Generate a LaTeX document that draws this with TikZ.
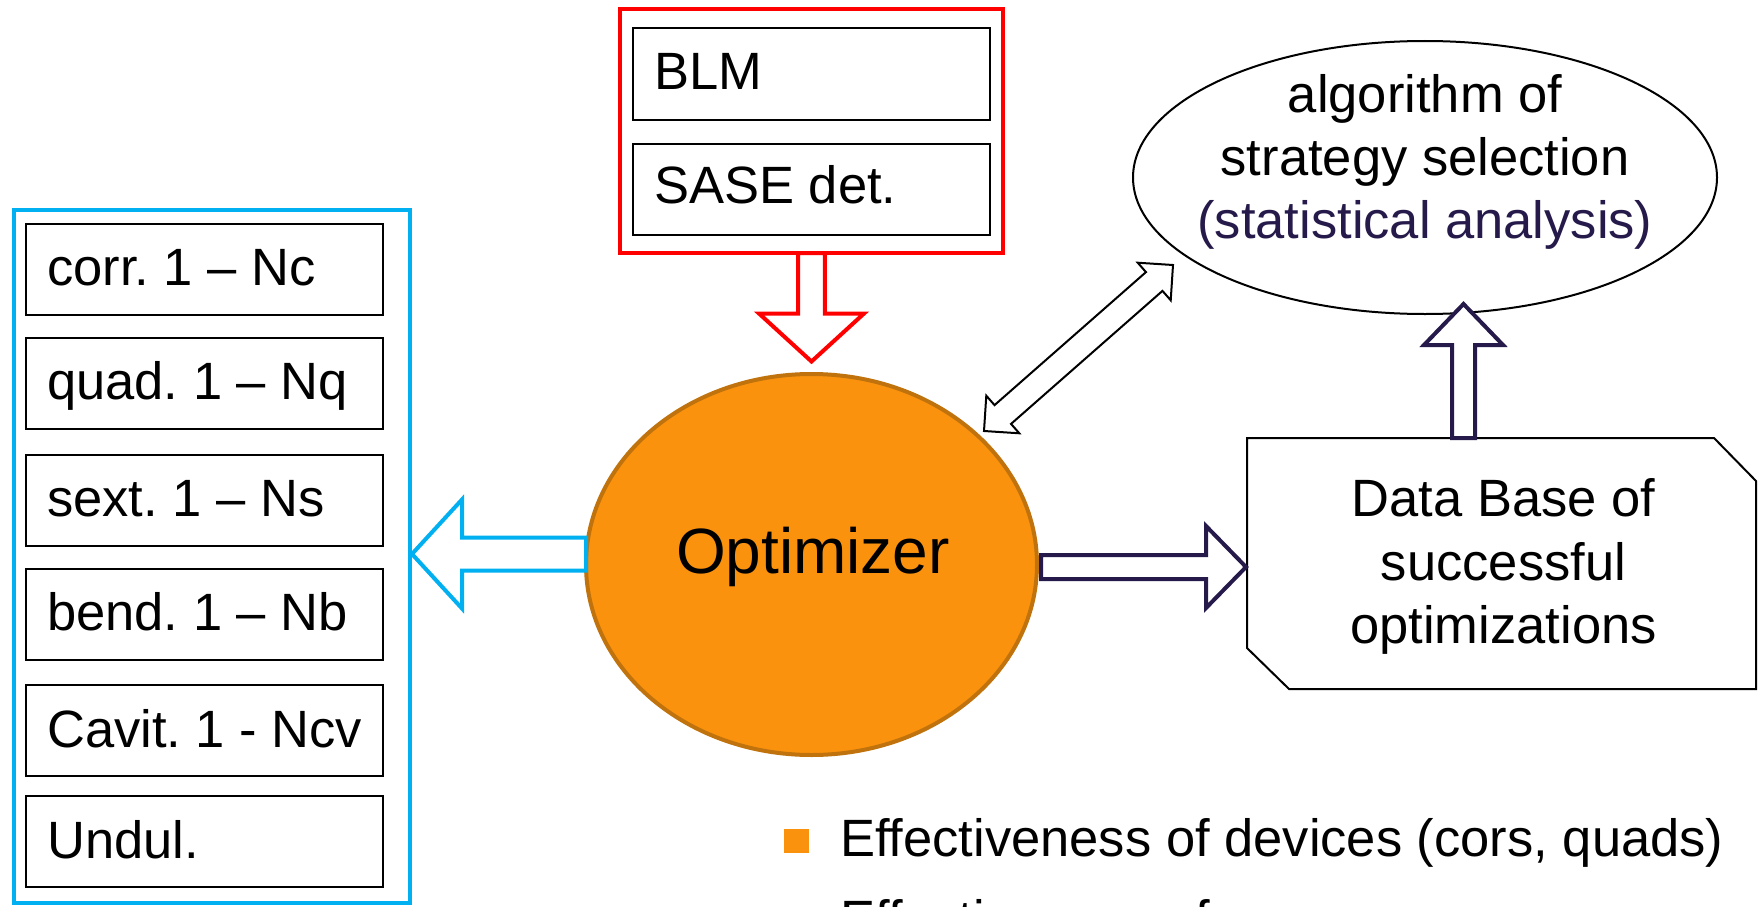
\documentclass[tikz,border=0pt]{standalone}
\usepackage{fontspec}
\setmainfont{Liberation Sans}
\usetikzlibrary{shapes.geometric,calc}
\frenchspacing
\definecolor{cyanb}{RGB}{0,176,240}
\definecolor{redb}{RGB}{255,0,0}
\definecolor{orfill}{RGB}{250,146,14}
\definecolor{ordraw}{RGB}{192,114,12}
\definecolor{purp}{RGB}{38,26,74}

% block arrow: style, from, to (tip), shaft half width, head half width, head length
\newcommand\blockarrow[6]{%
  \path (#2) coordinate (baA) (#3) coordinate (baB);
  \path ($(baB)!#6!(baA)$) coordinate (baH);
  \draw[#1] ($(baA)!#4!90:(baB)$) -- ($(baH)!#4!90:(baB)$) -- ($(baH)!#5!90:(baB)$) -- (baB)
    -- ($(baH)!#5!-90:(baB)$) -- ($(baH)!#4!-90:(baB)$) -- ($(baA)!#4!-90:(baB)$) -- cycle;}
% double block arrow
\newcommand\dblarrow[6]{%
  \path (#2) coordinate (daA) (#3) coordinate (daB);
  \path ($(daA)!#6!(daB)$) coordinate (daHA) ($(daB)!#6!(daA)$) coordinate (daHB);
  \draw[#1] (daA) -- ($(daHA)!#5!90:(daB)$) -- ($(daHA)!#4!90:(daB)$) -- ($(daHB)!#4!90:(daB)$)
    -- ($(daHB)!#5!90:(daB)$) -- (daB) -- ($(daHB)!#5!-90:(daB)$) -- ($(daHB)!#4!-90:(daB)$)
    -- ($(daHA)!#4!-90:(daB)$) -- ($(daHA)!#5!-90:(daB)$) -- cycle;}

\tikzset{
  lbl/.style={font=\fontsize{52.5}{63}\selectfont, inner sep=0pt, anchor=base west},
  ctext/.style={font=\fontsize{52.5}{63}\selectfont, inner sep=0pt, anchor=base},
  dev/.style={draw=black, line width=2pt, minimum width=357pt, minimum height=91pt, inner sep=0pt},
  bframe/.style={draw=cyanb, line width=4pt, minimum width=396pt, minimum height=693pt, inner sep=0pt},
  rframe/.style={draw=redb, line width=4pt, minimum width=383pt, minimum height=244pt, inner sep=0pt},
  bigarrow/.style={line width=4pt, fill=white, line join=miter},
}

\begin{document}
\begin{tikzpicture}[x=1pt, y=-1pt]
\useasboundingbox[fill=white] (0,0) rectangle (1761,907);

% left blue frame with devices
\node[bframe] (bf) at (212,556.5) {};
\node[dev] (c1) at (204.5,269) {};
\node[dev] (c2) at (204.5,383) {};
\node[dev] (c3) at (204.5,500) {};
\node[dev] (c4) at (204.5,614) {};
\node[dev] (c5) at (204.5,730.5) {};
\node[dev] (c6) at (204.5,841.5) {};
\node[lbl] at ($(c1.west)+(22,16.5)$) {corr. 1 – Nc};
\node[lbl] at ($(c2.west)+(22,16.5)$) {quad. 1 – Nq};
\node[lbl] at ($(c3.west)+(22,16.5)$) {sext. 1 – Ns};
\node[lbl] at ($(c4.west)+(22,16.5)$) {bend. 1 – Nb};
\node[lbl] at ($(c5.west)+(22,16.5)$) {Cavit. 1 - Ncv};
\node[lbl] at ($(c6.west)+(22,16.5)$) {Undul.};

% top red frame with diagnostics
\node[rframe] (rf) at (811.5,131) {};
\node[dev] (blm) at (811.5,74) {};
\node[dev] (sase) at (811.5,189) {};
\node[lbl] at ($(blm.west)+(22,15.5)$) {BLM};
\node[lbl] at ($(sase.west)+(22,14.5)$) {SASE det.};

% optimizer
\node[ellipse, draw=ordraw, fill=orfill, line width=4pt, minimum width=451pt, minimum height=381pt, inner sep=0pt] (opt) at (811.5,564.5) {};
\node[font=\fontsize{64}{77}\selectfont, anchor=base, inner sep=0pt] (optlbl) at ($(opt.center)+(1.5,8.5)$) {Optimizer};

% algorithm ellipse
\node[ellipse, draw=black, line width=2pt, minimum width=584pt, minimum height=273pt, inner sep=0pt] (alg) at (1425,177.5) {};
\node[ctext] (al1) at ($(alg.center)+(0,-65.5)$) {algorithm of};
\node[ctext] (al2) at ($(alg.center)+(0,-2.5)$) {strategy selection};
\node[ctext, text=purp] (al3) at ($(alg.center)+(0,60.5)$) {(statistical analysis)};

% data base
\node[minimum width=509pt, minimum height=251pt, inner sep=0pt, outer sep=0pt] (db) at (1501.5,563.5) {};
\draw[line width=2pt, line join=miter] (db.north west) -- ($(db.north east)+(-42,0)$) -- ($(db.north east)+(0,43)$)
  -- (db.south east) -- ($(db.south west)+(42,0)$) -- ($(db.south west)+(0,-41)$) -- cycle;
\node[ctext] (db1) at ($(db.center)+(2,-47.5)$) {Data Base of};
\node[ctext] (db2) at ($(db.center)+(2,16.5)$) {successful};
\node[ctext] (db3) at ($(db.center)+(2,79.5)$) {optimizations};

% legend
\node[fill=orfill, minimum width=25pt, minimum height=24pt, inner sep=0pt] (sq) at (796.5,841) {};
\node[lbl] (lg1) at (840,856) {Effectiveness of devices (cors, quads)};
\node[lbl] (lg2) at (840,937) {Effectiveness of};

% block arrows
\blockarrow{bigarrow, draw=redb}{$(rf.south)+(0,-2)$}{$(opt.north)+(0,-10.5)$}{13.3pt}{52.5pt}{48pt}
\blockarrow{bigarrow, draw=cyanb}{$(opt.west)+(2,-10.5)$}{$(bf.east|-opt.west)+(0,-10.5)$}{16.5pt}{54.5pt}{50pt}
\blockarrow{bigarrow, draw=purp}{$(opt.east)+(2,2.5)$}{$(db.west)+(-1,3.5)$}{12pt}{41pt}{40pt}
\blockarrow{bigarrow, draw=purp}{$(db.north)+(-38,0)$}{$(alg.south)+(38.5,-11)$}{11.5pt}{39.5pt}{41pt}

% double arrow optimizer <-> algorithm
\coordinate (dA) at ($(opt.center)+(172.5,-133.5)$);
\coordinate (dB) at ($(alg.center)+(-252,87.5)$);
\dblarrow{draw=black, line width=2pt, fill=white, line join=miter}{dA}{dB}{12.5pt}{25pt}{25pt}
\end{tikzpicture}
\end{document}
